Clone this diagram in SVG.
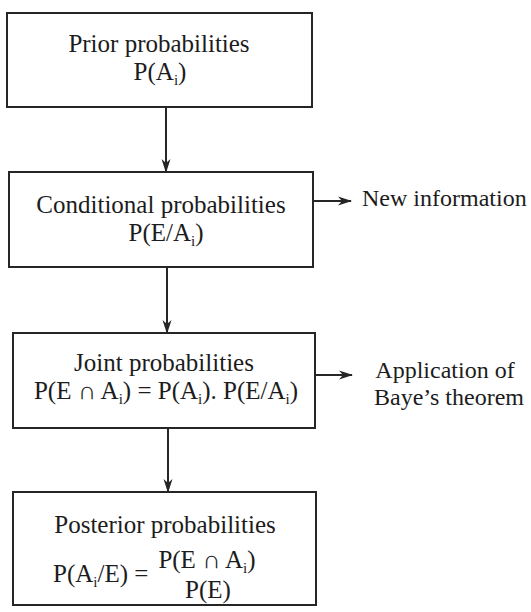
<svg xmlns="http://www.w3.org/2000/svg" width="531" height="612" viewBox="0 0 531 612">
<style>
  .box { fill: none; stroke: #262626; stroke-width: 2; }
  .t { font-family: "Liberation Serif", "Times New Roman", serif; font-size: 25px; fill: #1c1c1c; }
  .m { text-anchor: middle; }
  .s { font-size: 24px; }
  .sub { font-size: 15px; }
  .conn { stroke: #262626; stroke-width: 2; fill: none; marker-end: url(#ah); }
</style>
<defs>
  <marker id="ah" viewBox="0 0 14 10" refX="13" refY="5" markerWidth="14" markerHeight="10" markerUnits="userSpaceOnUse" orient="auto">
    <path d="M0,0.5 L14,5 L0,9.5 L4,5 Z" fill="#262626"/>
  </marker>
</defs>
<rect width="531" height="612" fill="#ffffff"/>

<g id="connectors">
  <line class="conn" x1="166" y1="107" x2="166" y2="172"/>
  <line class="conn" x1="167" y1="267" x2="167" y2="333"/>
  <line class="conn" x1="168" y1="428" x2="168" y2="492"/>
  <line class="conn" x1="313" y1="201" x2="351" y2="201"/>
  <line class="conn" x1="315" y1="375" x2="352" y2="375"/>
</g>

<g id="prior">
  <rect class="box" x="7" y="13" width="305" height="94"/>
  <text class="t m" x="159" y="52">Prior probabilities</text>
  <text class="t m" x="160" y="80">P(A<tspan class="sub" dy="5">i</tspan><tspan dy="-5">)</tspan></text>
</g>

<g id="conditional">
  <rect class="box" x="9" y="172" width="304" height="95"/>
  <text class="t m" x="161" y="213">Conditional probabilities</text>
  <text class="t m" x="166" y="241">P(E/A<tspan class="sub" dy="5">i</tspan><tspan dy="-5">)</tspan></text>
</g>

<g id="newinfo">
  <text class="t s" x="362" y="206">New information</text>
</g>

<g id="joint">
  <rect class="box" x="13" y="333" width="302" height="95"/>
  <text class="t m" x="164" y="371">Joint probabilities</text>
  <text class="t m" x="166" y="399">P(E ∩ A<tspan class="sub" dy="5">i</tspan><tspan dy="-5">) = P(A</tspan><tspan class="sub" dy="5">i</tspan><tspan dy="-5">). P(E/A</tspan><tspan class="sub" dy="5">i</tspan><tspan dy="-5">)</tspan></text>
</g>

<g id="bayes">
  <text class="t s m" x="445" y="378">Application of</text>
  <text class="t s m" x="449" y="405">Baye’s theorem</text>
</g>

<g id="posterior">
  <rect class="box" x="13" y="492" width="303" height="113"/>
  <text class="t m" x="165" y="533">Posterior probabilities</text>
  <text class="t" x="53" y="582">P(A<tspan class="sub" dy="5">i</tspan><tspan dy="-5">/E) =</tspan></text>
  <text class="t m" x="207" y="568">P(E ∩ A<tspan class="sub" dy="5">i</tspan><tspan dy="-5">)</tspan></text>
  <text class="t m" x="208" y="598">P(E)</text>
</g>
</svg>
